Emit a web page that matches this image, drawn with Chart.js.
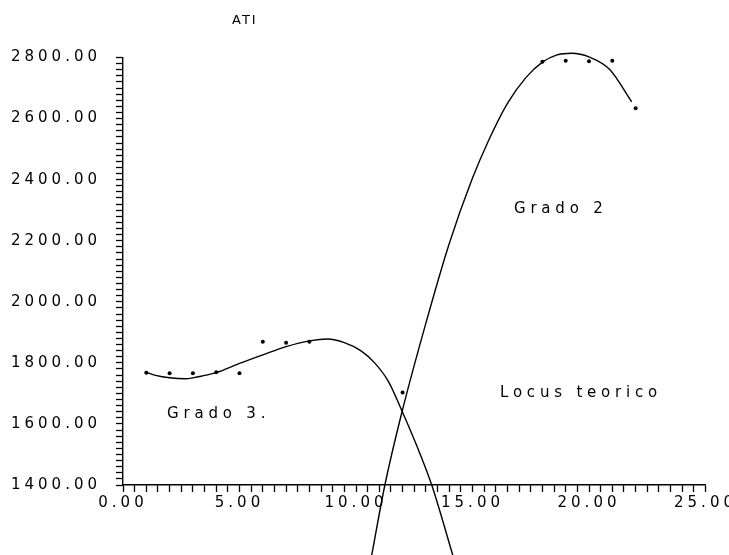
<!DOCTYPE html>
<html>
<head>
<meta charset="utf-8">
<script src="https://cdn.jsdelivr.net/npm/chart.js@4"></script>
<style>
  html, body { margin: 0; padding: 0; background: #fff; }
  #wrap { width: 729px; height: 555px; position: relative; }
</style>
</head>
<body>
<div id="wrap"><canvas id="chart"></canvas></div>
<script>
// measured samples
const sampleX = [1, 2, 3, 4, 5, 6, 7, 8, 12, 18, 19, 20, 21, 22];
const sampleY = [1768, 1766, 1766, 1769, 1766, 1869, 1866, 1869, 1703, 2786, 2789, 2788, 2789, 2634];

// fitted curve, degree 3
const grado3X = [1.0, 1.4, 2.0, 2.7, 3.0, 3.4, 4.0, 5.0, 6.0, 7.0, 8.0, 8.8, 9.5, 10.2, 10.8, 11.4, 11.96, 12.6, 13.25, 14.16];
const grado3Y = [1769, 1759, 1751, 1748, 1751, 1757, 1768, 1798, 1826, 1853, 1872, 1878, 1866, 1840, 1800, 1738, 1645, 1530, 1400, 1169];

// fitted curve, degree 2
const grado2X = [10.67, 11.24, 11.96, 13.0, 14.0, 15.0, 15.7, 16.5, 17.3, 18.0, 18.6, 19.26, 20.0, 20.9, 21.83];
const grado2Y = [1169, 1400, 1635, 1930, 2190, 2405, 2530, 2650, 2735, 2785, 2808, 2814, 2802, 2760, 2655];

// text placed on the plot (data coordinates)
const noteText = ["ATI", "Grado 2", "Grado 3.", "Locus teorico"];
const noteX = [4.68, 16.78, 1.89, 16.18];
const noteY = [2910, 2291, 1619, 1688];

const toPoints = (xs, ys) => xs.map((x, i) => ({ x: x, y: ys[i] }));

const fontFace = "'DejaVu Sans', sans-serif";

// wide plotter-style lettering for the whole canvas
const spacing = {
    id: "spacing",
    beforeDraw(chart) {
        chart.ctx.letterSpacing = "4px";
    }
};

const notes = {
    id: "notes",
    afterDraw(chart) {
        const ctx = chart.ctx;
        const xs = chart.scales.x;
        const ys = chart.scales.y;
        ctx.save();
        ctx.fillStyle = "#000";
        ctx.textAlign = "left";
        ctx.textBaseline = "alphabetic";
        noteText.forEach((t, i) => {
            if (i === 0) {
                ctx.font = "13px " + fontFace;
                ctx.letterSpacing = "2px";
            } else {
                ctx.font = "15px " + fontFace;
                ctx.letterSpacing = "4.8px";
            }
            ctx.fillText(t, xs.getPixelForValue(noteX[i]), ys.getPixelForValue(noteY[i]));
        });
        ctx.restore();
    }
};

const lineStyle = {
    type: "line",
    borderColor: "#000",
    borderWidth: 1.4,
    pointRadius: 0,
    fill: false,
    tension: 0.4,
    cubicInterpolationMode: "monotone",
    clip: false
};

new Chart(document.getElementById("chart"), {
    type: "scatter",
    data: {
        datasets: [
            {
                label: "samples",
                data: toPoints(sampleX, sampleY),
                backgroundColor: "#000",
                borderColor: "#000",
                pointRadius: 2,
                pointBorderWidth: 0,
                showLine: false,
                clip: false
            },
            Object.assign({ label: "Grado 3", data: toPoints(grado3X, grado3Y) }, lineStyle),
            Object.assign({ label: "Grado 2", data: toPoints(grado2X, grado2Y) }, lineStyle)
        ]
    },
    options: {
        responsive: true,
        maintainAspectRatio: false,
        animation: false,
        layout: {
            padding: { top: 57.5, right: 23.5, bottom: 0, left: 0 }
        },
        plugins: {
            legend: { display: false },
            tooltip: { enabled: false },
            title: { display: false }
        },
        scales: {
            x: {
                type: "linear",
                min: 0,
                max: 25,
                afterFit(scale) {
                    scale.height = 70;
                    scale.paddingLeft = 0;
                    scale.paddingRight = 0;
                },
                border: { color: "#000", width: 1.4 },
                grid: {
                    drawOnChartArea: false,
                    drawTicks: true,
                    tickLength: 7,
                    tickColor: "#000",
                    tickWidth: 1.3
                },
                ticks: {
                    stepSize: 0.5,
                    autoSkip: false,
                    maxRotation: 0,
                    padding: 2,
                    color: "#000",
                    font: { family: fontFace, size: 15 },
                    callback: (v) => (v % 5 === 0 ? v.toFixed(2) : "")
                }
            },
            y: {
                type: "linear",
                min: 1400,
                max: 2800,
                afterFit(scale) {
                    scale.width = 123;
                    scale.paddingTop = 0;
                    scale.paddingBottom = 0;
                },
                border: { color: "#000", width: 1.4 },
                grid: {
                    drawOnChartArea: false,
                    drawTicks: true,
                    tickLength: 7,
                    tickColor: "#000",
                    tickWidth: 1.3
                },
                ticks: {
                    stepSize: 20,
                    autoSkip: false,
                    padding: 15,
                    color: "#000",
                    font: { family: fontFace, size: 15 },
                    callback: (v) => (v % 200 === 0 ? v.toFixed(2) : "")
                }
            }
        }
    },
    plugins: [spacing, notes]
});
</script>
</body>
</html>
